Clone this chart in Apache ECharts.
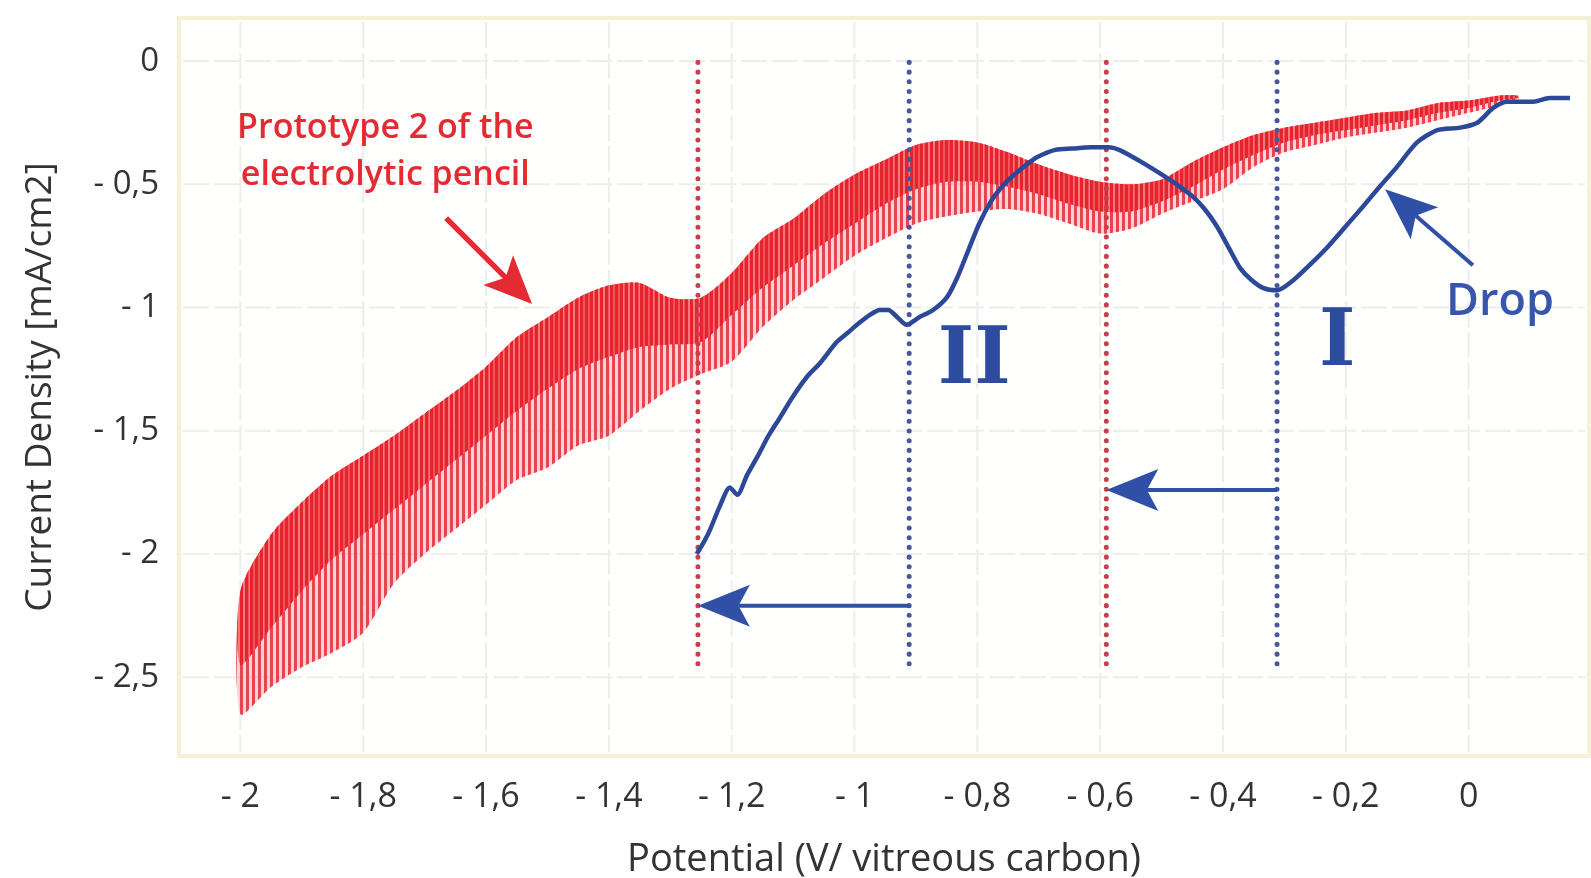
<!DOCTYPE html>
<html>
<head>
<meta charset="utf-8">
<title>Current density vs potential</title>
<script src="https://cdn.jsdelivr.net/npm/echarts@6/dist/echarts.min.js"></script>
<style>
  html, body { margin: 0; padding: 0; background: #fff; }
  #chart { width: 1591px; height: 878px; }
</style>
</head>
<body>
<div id="chart"></div>
<script>
// axis ticks
var xTicks = [-2, -1.8, -1.6, -1.4, -1.2, -1, -0.8, -0.6, -0.4, -0.2, 0];
var yTicks = [0, -0.5, -1, -1.5, -2, -2.5];

// prototype 2 of the electrolytic pencil (noisy band, read as envelopes)
var pencilV      = [-2.00, -1.95, -1.90, -1.85, -1.80, -1.75, -1.70, -1.65, -1.60, -1.55, -1.50, -1.45, -1.40, -1.35, -1.30, -1.25, -1.20, -1.15, -1.10, -1.05, -1.00, -0.95, -0.90, -0.85, -0.80, -0.75, -0.70, -0.65, -0.60, -0.55, -0.50, -0.45, -0.40, -0.35, -0.30, -0.25, -0.20, -0.15, -0.10, -0.05, 0.00, 0.05, 0.08];
var pencilTop    = [-2.15, -1.92, -1.79, -1.68, -1.60, -1.52, -1.43, -1.34, -1.24, -1.12, -1.04, -0.96, -0.91, -0.90, -0.96, -0.96, -0.86, -0.72, -0.64, -0.54, -0.46, -0.40, -0.34, -0.32, -0.33, -0.37, -0.42, -0.46, -0.49, -0.50, -0.48, -0.41, -0.35, -0.30, -0.27, -0.25, -0.23, -0.21, -0.20, -0.17, -0.16, -0.14, -0.14];
var pencilCore   = [-2.45, -2.30, -2.15, -2.02, -1.92, -1.82, -1.72, -1.62, -1.52, -1.42, -1.33, -1.25, -1.20, -1.16, -1.15, -1.14, -1.03, -0.92, -0.83, -0.74, -0.66, -0.58, -0.52, -0.49, -0.49, -0.51, -0.54, -0.58, -0.61, -0.61, -0.57, -0.51, -0.44, -0.38, -0.33, -0.30, -0.28, -0.26, -0.24, -0.21, -0.19, -0.16, -0.15];
var pencilBottom = [-2.65, -2.54, -2.46, -2.40, -2.32, -2.12, -2.00, -1.90, -1.80, -1.70, -1.65, -1.56, -1.52, -1.42, -1.33, -1.27, -1.22, -1.08, -0.97, -0.88, -0.79, -0.72, -0.66, -0.63, -0.61, -0.60, -0.62, -0.66, -0.70, -0.68, -0.62, -0.57, -0.52, -0.43, -0.37, -0.34, -0.31, -0.29, -0.27, -0.24, -0.21, -0.18, -0.16];

// drop
var dropV = [-1.257, -1.245, -1.235, -1.22, -1.203, -1.191, -1.175, -1.157, -1.14, -1.121, -1.10, -1.077, -1.056, -1.029, -1.01, -0.991, -0.975, -0.959, -0.945, -0.93, -0.915, -0.895, -0.872, -0.85, -0.833, -0.815, -0.797, -0.778, -0.76, -0.744, -0.72, -0.703, -0.673, -0.645, -0.615, -0.586, -0.569, -0.55, -0.529, -0.50, -0.47, -0.449, -0.43, -0.41, -0.39, -0.372, -0.355, -0.335, -0.312, -0.286, -0.26, -0.23, -0.20, -0.172, -0.145, -0.117, -0.084, -0.051, -0.014, 0.014, 0.04, 0.063, 0.105, 0.132, 0.165];
var dropJ = [-2.00, -1.95, -1.90, -1.81, -1.73, -1.76, -1.68, -1.60, -1.52, -1.445, -1.36, -1.28, -1.225, -1.14, -1.10, -1.06, -1.03, -1.01, -1.01, -1.04, -1.07, -1.04, -1.01, -0.96, -0.88, -0.77, -0.66, -0.57, -0.51, -0.47, -0.42, -0.39, -0.36, -0.355, -0.35, -0.35, -0.36, -0.385, -0.415, -0.46, -0.51, -0.55, -0.60, -0.67, -0.76, -0.84, -0.885, -0.92, -0.93, -0.89, -0.83, -0.755, -0.67, -0.59, -0.51, -0.43, -0.33, -0.28, -0.27, -0.25, -0.19, -0.165, -0.165, -0.15, -0.15];

// reduction steps I and II : dotted markers and shift arrows
var markerV = [-1.255, -0.911, -0.59, -0.312];
var markerKind = ['red', 'blue', 'red', 'blue'];
var markerTop = -0.005;
var markerBottom = -2.46;

var arrowFrom = [[-1.665, -0.637], [0.007, -0.828], [-0.312, -1.74], [-0.911, -2.21]];
var arrowTo   = [[-1.525, -0.986], [-0.136, -0.52], [-0.59, -1.74], [-1.255, -2.21]];
var arrowKind = ['red', 'blue', 'blue', 'blue'];

var noteText = ['Prototype 2 of the\nelectrolytic pencil', 'Drop', 'II', 'I'];
var noteV = [-1.764, 0.051, -0.805, -0.214];
var noteJ = [-0.367, -0.98, -1.222, -1.153];

var FONT = '"Open Sans", "Noto Sans", sans-serif';
var RED = '#e42a33';
var BLUE = '#2c4898';

function stripes(period, bar, barColor, bgColor) {
  var c = document.createElement('canvas');
  c.width = period; c.height = 4;
  var g = c.getContext('2d');
  g.fillStyle = bgColor; g.fillRect(0, 0, period, 4);
  g.fillStyle = barColor; g.fillRect(0, 0, bar, 4);
  return c;
}
var spikeTile = stripes(6, 3, 'rgba(228,44,52,0.85)', 'rgba(244,128,130,0.35)');
var coreTile = stripes(5, 3, 'rgba(230,32,42,0.95)', 'rgba(242,92,98,0.75)');

function fmt(v) {
  var r = Math.round(v * 10) / 10;
  if (r === 0) return '0';
  return '- ' + String(Math.abs(r)).replace('.', ',');
}

var chart = echarts.init(document.getElementById('chart'), null, { renderer: 'canvas' });

var option = {
  animation: false,
  backgroundColor: '#ffffff',
  textStyle: { fontFamily: FONT },
  grid: {
    left: 179, right: 2, top: 18, bottom: 122,
    outerBoundsMode: 'none', containLabel: false,
    show: true, backgroundColor: '#fffffe',
    borderColor: '#f6f0d4', borderWidth: 4
  },
  xAxis: {
    type: 'value', min: -2.1, max: 0.196, interval: 0.1,
    name: 'Potential (V/ vitreous carbon)', nameLocation: 'middle', nameGap: 85,
    nameTextStyle: { fontSize: 38, color: '#333', fontFamily: FONT },
    axisLine: { show: false }, axisTick: { show: false }, splitLine: { show: false },
    axisLabel: {
      fontSize: 34, color: '#333', margin: 24, fontFamily: FONT,
      formatter: function (v) {
        var k = Math.round(v * 10);
        return (k % 2 === 0 && k <= 0 && k >= -20) ? fmt(v) : '';
      }
    }
  },
  yAxis: {
    type: 'value', min: -2.82, max: 0.175, interval: 0.02,
    name: 'Current Density [mA/cm2]', nameLocation: 'middle', nameGap: 120,
    nameTextStyle: { fontSize: 37, color: '#333', fontFamily: FONT },
    axisLine: { show: false }, axisTick: { show: false }, splitLine: { show: false },
    axisLabel: {
      fontSize: 33, color: '#333', margin: 20, fontFamily: FONT,
      formatter: function (v) {
        var k = Math.round(v * 100);
        return (k % 50 === 0 && k <= 0 && k >= -250) ? fmt(v) : '';
      }
    }
  },
  series: [
    {
      // faint grid
      type: 'custom', silent: true, z: 1,
      data: [[0, 0]],
      renderItem: function (params, api) {
        var cs = params.coordSys;
        var kids = [];
        xTicks.forEach(function (v) {
          var p = api.coord([v, 0]);
          kids.push({ type: 'line', shape: { x1: p[0], y1: cs.y + 4, x2: p[0], y2: cs.y + cs.height - 4 },
            style: { stroke: '#ededed', lineWidth: 2, lineDash: [26, 5] } });
        });
        yTicks.forEach(function (v) {
          var p = api.coord([0, v]);
          kids.push({ type: 'line', shape: { x1: cs.x + 4, y1: p[1], x2: cs.x + cs.width - 4, y2: p[1] },
            style: { stroke: '#ededed', lineWidth: 2, lineDash: [26, 5] } });
        });
        return { type: 'group', children: kids };
      }
    },
    {
      // noisy pencil band
      type: 'custom', silent: true, z: 2,
      data: [[pencilV[0], pencilTop[0]]],
      renderItem: function (params, api) {
        var top = pencilV.map(function (v, i) { return api.coord([v, pencilTop[i]]); });
        var core = pencilV.map(function (v, i) { return api.coord([v, pencilCore[i]]); }).reverse();
        var bottom = pencilV.map(function (v, i) { return api.coord([v, pencilBottom[i]]); }).reverse();
        return {
          type: 'group',
          children: [
            { type: 'polygon', shape: { points: top.concat(bottom), smooth: 0.25 },
              style: { fill: { image: spikeTile, repeat: 'repeat' } } },
            { type: 'polygon', shape: { points: top.concat(core), smooth: 0.25 },
              style: { fill: { image: coreTile, repeat: 'repeat' } } }
          ]
        };
      }
    },
    {
      // dotted step markers
      type: 'custom', silent: true, z: 3,
      data: markerV.map(function (v, i) { return [v, i]; }),
      renderItem: function (params, api) {
        var i = params.dataIndex;
        var a = api.coord([markerV[i], markerTop]);
        var b = api.coord([markerV[i], markerBottom]);
        return { type: 'line', shape: { x1: a[0], y1: a[1], x2: b[0], y2: b[1] },
          style: { stroke: markerKind[i] === 'red' ? '#c4404c' : '#46579a', lineWidth: 5,
            lineDash: [0.1, 9.6], lineCap: 'round' } };
      }
    },
    {
      name: 'Drop', type: 'line', z: 4,
      data: dropV.map(function (v, i) { return [v, dropJ[i]]; }),
      showSymbol: false, smooth: 0.25,
      lineStyle: { color: BLUE, width: 4.5 }
    },
    {
      // arrows
      type: 'custom', silent: true, z: 5,
      data: arrowFrom.map(function (p, i) { return [p[0], p[1]]; }),
      renderItem: function (params, api) {
        var i = params.dataIndex;
        var red = arrowKind[i] === 'red';
        var color = red ? RED : '#2f50a6';
        var lw = red ? 5.5 : 4;
        var L = red ? 48 : 52, W = red ? 42 : 42;
        var p1 = api.coord(arrowFrom[i]);
        var p2 = api.coord(arrowTo[i]);
        var dx = p2[0] - p1[0], dy = p2[1] - p1[1];
        var len = Math.sqrt(dx * dx + dy * dy);
        var ux = dx / len, uy = dy / len, nx = -uy, ny = ux;
        var bx = p2[0] - ux * L, by = p2[1] - uy * L;
        var mx = p2[0] - ux * L * 0.78, my = p2[1] - uy * L * 0.78;
        return {
          type: 'group',
          children: [
            { type: 'line', shape: { x1: p1[0], y1: p1[1], x2: mx, y2: my },
              style: { stroke: color, lineWidth: lw } },
            { type: 'polygon',
              shape: { points: [[p2[0], p2[1]], [bx + nx * W / 2, by + ny * W / 2], [mx, my], [bx - nx * W / 2, by - ny * W / 2]] },
              style: { fill: color } }
          ]
        };
      }
    },
    {
      // annotations
      type: 'custom', silent: true, z: 6,
      data: noteV.map(function (v, i) { return [v, noteJ[i]]; }),
      renderItem: function (params, api) {
        var i = params.dataIndex;
        var p = api.coord([noteV[i], noteJ[i]]);
        var st;
        if (i === 0) {
          st = { fill: RED, fontSize: 34, fontWeight: 600, fontFamily: FONT, lineHeight: 47 };
        } else if (i === 1) {
          st = { fill: '#3556aa', fontSize: 45, fontWeight: 600, fontFamily: FONT };
        } else {
          st = { fill: '#2d4b9f', fontSize: 78, fontWeight: 'bold', fontFamily: '"DejaVu Serif", serif' };
        }
        st.text = noteText[i];
        st.align = 'center';
        st.verticalAlign = 'middle';
        return { type: 'text', x: p[0], y: p[1], style: st };
      }
    }
  ]
};

chart.setOption(option);
</script>
</body>
</html>
